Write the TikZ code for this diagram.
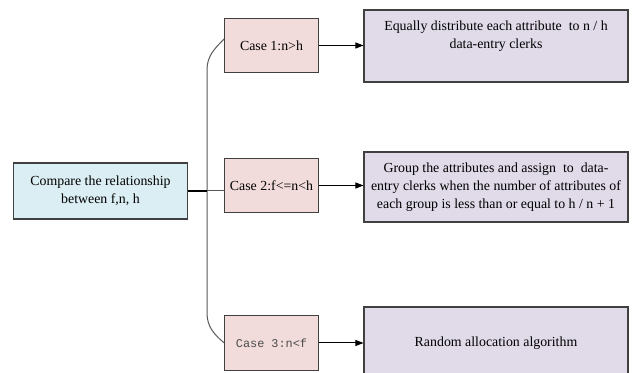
\documentclass[tikz,border=0pt]{standalone}
\usepackage{fontspec}
\setmainfont{Liberation Serif}
\newfontfamily\casefont{Liberation Mono}
\usetikzlibrary{arrows.meta}
\definecolor{cmpfill}{RGB}{219,238,243}
\definecolor{casefill}{RGB}{242,220,219}
\definecolor{resfill}{RGB}{224,218,233}
\definecolor{edge}{RGB}{64,64,64}
\tikzset{
  box/.style={draw=edge,line width=0.8pt,inner sep=0pt,align=center,
    font=\fontsize{10.4}{13.5}\selectfont},
  cmpbox/.style={box,fill=cmpfill,minimum width=131pt,minimum height=42pt},
  casebox/.style={box,fill=casefill,minimum width=70pt,minimum height=41pt},
  resbox/.style={box,fill=resfill,minimum width=198pt},
  link/.style={line width=0.75pt,-{Triangle[length=6pt,width=4.5pt]}}
}
\begin{document}
\begin{tikzpicture}[x=0.75pt,y=-0.75pt]
		\useasboundingbox (0,0) rectangle (639,373);
		\node[cmpbox] (cmp) at (100.5,191) {Compare the relationship\\between f,n, h};
		\node[casebox] (caseA) at (271.5,45.5) {Case 1:n>h};
		\node[casebox] (caseB) at (271.5,185.5) {Case 2:f<=n<h};
		\node[casebox,font=\casefont\fontsize{8.9}{11}\selectfont,text=black!70] (caseC) at (271.5,343) {Case 3:n<f};
		\node[resbox,minimum height=54pt] (resA) at (496,46) {Equally distribute each attribute~ to n / h\\data-entry clerks\\[3pt]};
		\node[resbox,minimum height=52.5pt] (resB) at (496,187) {Group the attributes and assign~ to~ data-\\entry clerks when the number of attributes of\\each group is less than or equal to h / n + 1};
		\node[resbox,minimum height=54pt] (resC) at (496,343) {Random allocation algorithm};
		\coordinate (bt) at (207,70);
		\coordinate (bb) at (207,313);
		% brace to the three cases
		\draw [line width=0.75pt,black!65] ([yshift=5pt]caseA.west) to[out=225,in=90] (bt) -- (bb) to[out=-90,in=140] (caseC.west);
		\draw [line width=0.75pt,black!65] (cmp.east -| bt) -- (cmp.east -| caseB.west);
		\draw [line width=1pt] (cmp.east) -- (cmp.east -| bt);
		\draw [link] (caseA.east) -- (caseA.east -| resA.west);
		\draw [link] (caseB.east) -- (caseB.east -| resB.west);
		\draw [link] (caseC.east) -- (caseC.east -| resC.west);
	\end{tikzpicture}
\end{document}
